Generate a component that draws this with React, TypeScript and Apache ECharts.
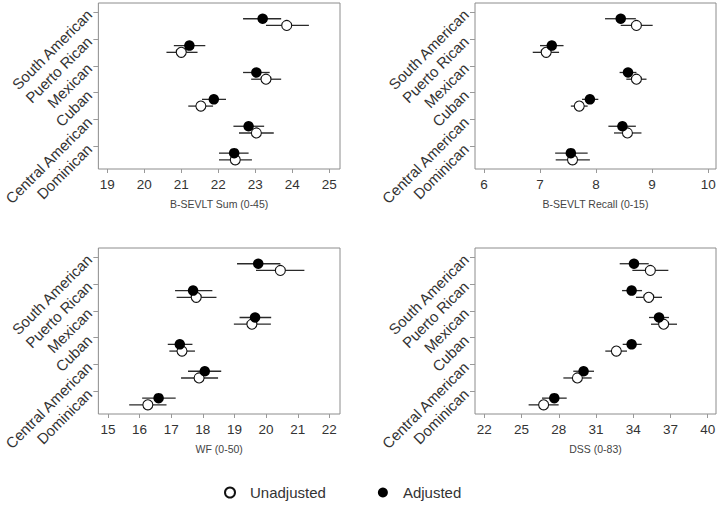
import React, { useEffect, useRef } from "react";
import * as echarts from "echarts";

// Group labels, top to bottom
const groups = ["South American", "Puerto Rican", "Mexican", "Cuban", "Central American", "Dominican"];
// y-axis label positions (top group = 6)
const groupPos = [6, 5, 4, 3, 2, 1];

// B-SEVLT Sum (0-45)
const sumTicks = [19, 20, 21, 22, 23, 24, 25];
const sumAdj = [23.2, 21.22, 23.03, 21.88, 22.82, 22.43];
const sumAdjLo = [22.67, 20.8, 22.67, 21.56, 22.41, 22.02];
const sumAdjHi = [23.7, 21.65, 23.39, 22.21, 23.24, 22.82];
const sumUn = [23.85, 21.0, 23.29, 21.53, 23.03, 22.46];
const sumUnLo = [23.29, 20.6, 22.89, 21.19, 22.56, 22.02];
const sumUnHi = [24.45, 21.44, 23.7, 21.86, 23.5, 22.91];

// B-SEVLT Recall (0-15)
const recTicks = [6, 7, 8, 9, 10];
const recAdj = [8.44, 7.21, 8.57, 7.89, 8.47, 7.55];
const recAdjLo = [8.16, 7.0, 8.42, 7.75, 8.22, 7.27];
const recAdjHi = [8.71, 7.42, 8.72, 8.04, 8.71, 7.85];
const recUn = [8.72, 7.11, 8.72, 7.7, 8.56, 7.58];
const recUnLo = [8.44, 6.87, 8.54, 7.55, 8.32, 7.28];
const recUnHi = [9.01, 7.34, 8.9, 7.85, 8.81, 7.89];

// WF (0-50)
const wfTicks = [15, 16, 17, 18, 19, 20, 21, 22];
const wfAdj = [19.75, 17.69, 19.65, 17.27, 18.06, 16.6];
const wfAdjLo = [19.08, 17.12, 19.16, 16.89, 17.53, 16.08];
const wfAdjHi = [20.45, 18.3, 20.16, 17.67, 18.58, 17.14];
const wfUn = [20.45, 17.79, 19.55, 17.34, 17.88, 16.26];
const wfUnLo = [19.68, 17.17, 18.98, 16.94, 17.31, 15.67];
const wfUnHi = [21.21, 18.43, 20.15, 17.75, 18.48, 16.85];

// DSS (0-83)
const dssTicks = [22, 25, 28, 31, 34, 37, 40];
const dssAdj = [34.06, 33.87, 36.08, 33.87, 30.0, 27.64];
const dssAdjLo = [32.91, 33.1, 35.27, 33.15, 29.17, 26.65];
const dssAdjHi = [35.25, 34.71, 36.88, 34.68, 30.84, 28.64];
const dssUn = [35.38, 35.25, 36.45, 32.64, 29.5, 26.78];
const dssUnLo = [33.93, 34.22, 35.43, 31.75, 28.37, 25.57];
const dssUnHi = [36.83, 36.32, 37.53, 33.5, 30.65, 27.99];

const FONT = "'Liberation Sans', Arial, Helvetica, sans-serif";

const panels = [
  { title: "B-SEVLT Sum (0-45)", ticks: sumTicks, min: 18.76, max: 25.29, adj: sumAdj, adjLo: sumAdjLo, adjHi: sumAdjHi, un: sumUn, unLo: sumUnLo, unHi: sumUnHi, grid: { left: 97, top: 3, width: 243, height: 166 } },
  { title: "B-SEVLT Recall (0-15)", ticks: recTicks, min: 5.84, max: 10.14, adj: recAdj, adjLo: recAdjLo, adjHi: recAdjHi, un: recUn, unLo: recUnLo, unHi: recUnHi, grid: { left: 475, top: 3, width: 241, height: 166 } },
  { title: "WF (0-50)", ticks: wfTicks, min: 14.695, max: 22.336, adj: wfAdj, adjLo: wfAdjLo, adjHi: wfAdjHi, un: wfUn, unLo: wfUnLo, unHi: wfUnHi, grid: { left: 97, top: 248, width: 243, height: 166 } },
  { title: "DSS (0-83)", ticks: dssTicks, min: 21.25, max: 40.67, adj: dssAdj, adjLo: dssAdjLo, adjHi: dssAdjHi, un: dssUn, unLo: dssUnLo, unHi: dssUnHi, grid: { left: 475, top: 248, width: 241, height: 166 } },
];

const ADJ_OFFSET = 0.25;
const UN_OFFSET = 0.5;

export default function App() {
  const ref = useRef<HTMLDivElement>(null);
  useEffect(() => {
    if (!ref.current) return;
    const chart = echarts.init(ref.current, null, { renderer: "svg" });
    const grids: any[] = [];
    const xAxes: any[] = [];
    const yAxes: any[] = [];
    const series: any[] = [];
    panels.forEach((p, i) => {
      grids.push({ ...p.grid, show: true, borderColor: "#8c8c8c", borderWidth: 1, backgroundColor: "#fff", containLabel: false });
      xAxes.push({
        type: "value",
        gridIndex: i,
        min: p.min,
        max: p.max,
        name: p.title,
        nameLocation: "middle",
        nameGap: 35,
        nameTextStyle: { fontFamily: FONT, fontSize: 10.5, color: "#444", verticalAlign: "middle" },
        axisLine: { show: false },
        axisTick: { show: true, customValues: p.ticks, length: 4, lineStyle: { color: "#999" } },
        axisLabel: { customValues: p.ticks, fontFamily: FONT, fontSize: 13.5, color: "#333", margin: 8, formatter: (v: number) => String(v) },
        splitLine: { show: false },
      });
      yAxes.push({
        type: "value",
        gridIndex: i,
        min: 0.16,
        max: 6.335,
        axisLine: { show: false },
        axisTick: { show: true, customValues: groupPos, length: 5, lineStyle: { color: "#999" } },
        axisLabel: {
          customValues: groupPos,
          rotate: 45,
          margin: 9,
          fontFamily: FONT,
          fontSize: 15,
          color: "#333",
          formatter: (v: number) => groups[groupPos.indexOf(Math.round(v))] ?? "",
        },
        splitLine: { show: false },
      });
      const bars: any[] = [];
      groups.forEach((_, g) => {
        bars.push([groupPos[g] - ADJ_OFFSET, p.adjLo[g], p.adjHi[g]]);
        bars.push([groupPos[g] - UN_OFFSET, p.unLo[g], p.unHi[g]]);
      });
      series.push({
        type: "custom",
        name: "ci" + i,
        xAxisIndex: i,
        yAxisIndex: i,
        data: bars,
        encode: { x: [1, 2], y: 0 },
        renderItem: (params: any, api: any) => {
          const y = api.value(0);
          const a = api.coord([api.value(1), y]);
          const b = api.coord([api.value(2), y]);
          return {
            type: "line",
            shape: { x1: a[0], y1: a[1], x2: b[0], y2: b[1] },
            style: { stroke: "#2a2a2a", lineWidth: 1.3 },
          };
        },
        silent: true,
        z: 1,
      });
      series.push({
        type: "scatter",
        name: "Unadjusted",
        xAxisIndex: i,
        yAxisIndex: i,
        symbol: "circle",
        symbolSize: 10,
        itemStyle: { color: "#fff", borderColor: "#111", borderWidth: 1.1, opacity: 1 },
        data: p.un.map((v, g) => [v, groupPos[g] - UN_OFFSET]),
        z: 2,
      });
      series.push({
        type: "scatter",
        name: "Adjusted",
        xAxisIndex: i,
        yAxisIndex: i,
        symbol: "circle",
        symbolSize: 10.5,
        itemStyle: { color: "#000", opacity: 1 },
        data: p.adj.map((v, g) => [v, groupPos[g] - ADJ_OFFSET]),
        z: 3,
      });
    });
    chart.setOption({
      animation: false,
      backgroundColor: "#fff",
      grid: grids,
      xAxis: xAxes,
      yAxis: yAxes,
      series,
      legend: {
        data: ["Unadjusted", "Adjusted"],
        left: 219,
        top: 480,
        icon: "circle",
        itemWidth: 30,
        itemHeight: 10,
        itemGap: 52,
        textStyle: { fontFamily: FONT, fontSize: 15, color: "#333" },
        selectedMode: false,
      },
    });
    return () => chart.dispose();
  }, []);
  return <div ref={ref} style={{ position: "absolute", left: 0, top: 0, width: 720, height: 505 }} />;
}
